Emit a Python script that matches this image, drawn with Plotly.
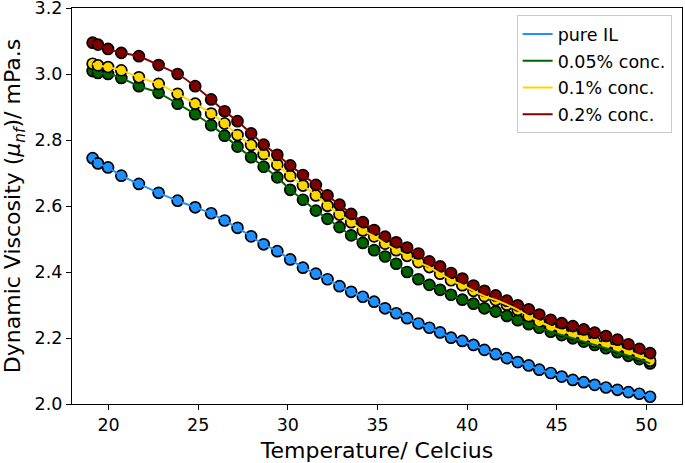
import plotly.graph_objects as go

temperature = [19.11, 19.41, 19.97, 20.71, 21.69, 22.79, 23.85, 24.83, 25.72, 26.47,
               27.19, 27.95, 28.65, 29.41, 30.13, 30.84, 31.56, 32.21, 32.88, 33.53,
               34.18, 34.81, 35.42, 36.04, 36.65, 37.28, 37.89, 38.49, 39.10, 39.73,
               40.35, 40.96, 41.59, 42.21, 42.82, 43.43, 44.02, 44.66, 45.27, 45.89,
               46.50, 47.11, 47.74, 48.38, 48.99, 49.60, 50.20]

pure_il = [2.745, 2.729, 2.717, 2.692, 2.667, 2.640, 2.616, 2.596, 2.578, 2.556,
           2.534, 2.508, 2.484, 2.463, 2.438, 2.413, 2.395, 2.378, 2.357, 2.340,
           2.325, 2.310, 2.290, 2.275, 2.260, 2.244, 2.231, 2.217, 2.201, 2.191,
           2.179, 2.164, 2.151, 2.139, 2.127, 2.117, 2.104, 2.094, 2.083, 2.073,
           2.066, 2.058, 2.050, 2.043, 2.036, 2.031, 2.022]

conc_005 = [3.009, 3.003, 3.000, 2.988, 2.963, 2.943, 2.910, 2.878, 2.845, 2.813,
            2.780, 2.748, 2.719, 2.687, 2.649, 2.619, 2.586, 2.561, 2.536, 2.511,
            2.488, 2.466, 2.447, 2.425, 2.400, 2.378, 2.361, 2.346, 2.331, 2.316,
            2.304, 2.290, 2.280, 2.267, 2.254, 2.242, 2.231, 2.219, 2.209, 2.199,
            2.189, 2.179, 2.169, 2.157, 2.146, 2.136, 2.123]

conc_01 = [3.031, 3.026, 3.021, 3.011, 2.990, 2.970, 2.940, 2.910, 2.880, 2.850,
           2.815, 2.785, 2.757, 2.725, 2.691, 2.662, 2.632, 2.601, 2.574, 2.551,
           2.526, 2.508, 2.486, 2.466, 2.449, 2.430, 2.415, 2.395, 2.375, 2.360,
           2.343, 2.327, 2.315, 2.301, 2.285, 2.266, 2.250, 2.234, 2.221, 2.211,
           2.201, 2.189, 2.181, 2.171, 2.159, 2.147, 2.131]

conc_02 = [3.095, 3.089, 3.076, 3.064, 3.054, 3.027, 3.000, 2.963, 2.923, 2.887,
           2.857, 2.820, 2.786, 2.755, 2.723, 2.694, 2.664, 2.632, 2.604, 2.576,
           2.551, 2.527, 2.507, 2.490, 2.474, 2.456, 2.432, 2.417, 2.397, 2.380,
           2.359, 2.343, 2.329, 2.313, 2.299, 2.287, 2.271, 2.255, 2.245, 2.236,
           2.226, 2.216, 2.206, 2.195, 2.181, 2.167, 2.154]

series_names = ["pure IL", "0.05% conc.", "0.1% conc.", "0.2% conc."]
series_values = [pure_il, conc_005, conc_01, conc_02]
series_colors = ["#1E90FF", "#006400", "#FFD700", "#800000"]

fig = go.Figure()

# markers first
for name, vals, col in zip(series_names, series_values, series_colors):
    fig.add_trace(go.Scatter(
        x=temperature, y=vals, mode="markers", showlegend=False,
        marker=dict(size=11, color=col, line=dict(color="black", width=1.7)),
        hoverinfo="skip"))

# lines on top
for i, (name, vals, col) in enumerate(zip(series_names, series_values, series_colors)):
    fig.add_trace(go.Scatter(
        x=temperature, y=vals, mode="lines", name=name, legendgroup=f"g{i}",
        line=dict(color=col, width=2, shape="spline", smoothing=0.6)))

axis_common = dict(showline=True, linecolor="black", linewidth=1.1, mirror=True,
                   ticks="outside", ticklen=5, tickwidth=1.1, tickcolor="black",
                   showgrid=False, zeroline=False, automargin=False,
                   ticklabeloverflow="allow",
                   tickfont=dict(family="DejaVu Sans", size=17.5, color="black"))

fig.update_xaxes(range=[17.96, 51.98], tickvals=[20, 25, 30, 35, 40, 45, 50],
                 title=dict(text="Temperature/ Celcius",
                            font=dict(family="DejaVu Sans", size=22, color="black"),
                            standoff=8),
                 **axis_common)
fig.update_yaxes(range=[2.0, 3.2], tickvals=[2.0, 2.2, 2.4, 2.6, 2.8, 3.0, 3.2],
                 tickformat=".1f",
                 title=dict(text="Dynamic Viscosity (<i>μ</i><sub><i>nf</i></sub>)/ mPa.s",
                            font=dict(family="DejaVu Sans", size=22, color="black"),
                            standoff=8),
                 **axis_common)

fig.update_layout(
    width=685, height=463,
    margin=dict(l=72, r=3, t=8, b=59, autoexpand=False),
    paper_bgcolor="white", plot_bgcolor="white",
    font=dict(family="DejaVu Sans", color="black"),
    legend=dict(x=0.983, y=0.982, xanchor="right", yanchor="top",
                bgcolor="rgba(255,255,255,0.8)", bordercolor="#cccccc", borderwidth=1,
                font=dict(family="DejaVu Sans", size=17.5, color="black"),
                tracegroupgap=1, itemwidth=30),
)

fig.write_html("out.html", config={"displayModeBar": False},
               post_script="document.body.style.margin='0';document.body.style.padding='0';")
